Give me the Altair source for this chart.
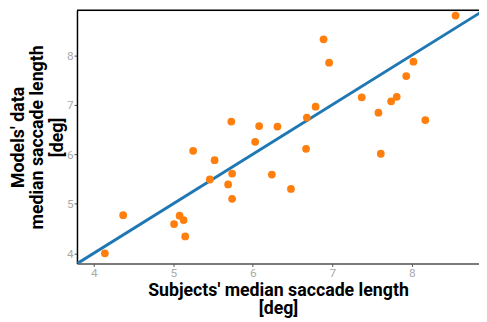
import altair as alt
import pandas as pd

subjects = [4.14, 4.37, 5.01, 5.08, 5.13, 5.15, 5.25, 5.46, 5.52, 5.69, 5.73, 5.74, 5.74,
            6.03, 6.08, 6.24, 6.31, 6.48, 6.67, 6.68, 6.79, 6.89, 6.96, 7.37, 7.58, 7.61,
            7.74, 7.81, 7.93, 8.02, 8.17, 8.55]
models = [4.00, 4.77, 4.59, 4.76, 4.67, 4.34, 6.07, 5.49, 5.88, 5.39, 6.66, 5.61, 5.10,
          6.25, 6.57, 5.59, 6.56, 5.30, 6.11, 6.74, 6.96, 8.32, 7.85, 7.15, 6.84, 6.01,
          7.07, 7.16, 7.58, 7.87, 6.69, 8.80]
line_vals = [3.5, 9.5]

pts = pd.DataFrame({"x": subjects, "y": models})
ln = pd.DataFrame({"x": line_vals, "y": line_vals})

FONT = "Roboto"
xdom = [3.789, 8.845]
ydom = [3.793, 8.907]

xscale = alt.Scale(domain=xdom, nice=False, zero=False)
yscale = alt.Scale(domain=ydom, nice=False, zero=False)

xaxis = alt.Axis(
    title=["Subjects' median saccade length", "[deg]"],
    values=[4, 5, 6, 7, 8], format="d", grid=False, domainColor="#555555", domainWidth=1.5,
    tickColor="#555555", tickSize=3, labelColor="#aaaaaa", labelFontSize=12,
    labelFont=FONT, labelPadding=1, titleFont=FONT, titleFontSize=18,
    titleFontWeight="bold", titleColor="black", titlePadding=3, titleLineHeight=19,
)
yaxis = alt.Axis(
    title=["Models' data", "median saccade length", "[deg]"],
    values=[4, 5, 6, 7, 8], format="d", grid=False, domainColor="black", domainWidth=1.5,
    tickColor="#555555", tickSize=3, labelColor="#aaaaaa", labelFontSize=12,
    labelFont=FONT, labelPadding=1, titleFont=FONT, titleFontSize=18,
    titleFontWeight="bold", titleColor="black", titlePadding=0, titleLineHeight=20,
    titleBaseline="bottom",
)

line = alt.Chart(ln).mark_line(color="#1f77b4", strokeWidth=3, clip=True).encode(
    x=alt.X("x:Q", scale=xscale, axis=xaxis),
    y=alt.Y("y:Q", scale=yscale, axis=yaxis),
)
points = alt.Chart(pts).mark_circle(color="#ff7f0e", size=62, opacity=1).encode(
    x=alt.X("x:Q", scale=xscale),
    y=alt.Y("y:Q", scale=yscale),
)
top = alt.Chart(pd.DataFrame({"a": [0]})).mark_rule(color="black", strokeWidth=1.5).encode(
    x=alt.value(0), x2=alt.value(408), y=alt.value(0)
)

chart = alt.layer(line, points, top).properties(
    width=408, height=257,
    autosize=alt.AutoSizeParams(type="none"),
    padding={"left": 70, "top": 0, "right": 0, "bottom": 57},
).configure_view(stroke=None).configure(background="white")

chart.save("out.html", embed_options={"renderer": "svg", "actions": False})
